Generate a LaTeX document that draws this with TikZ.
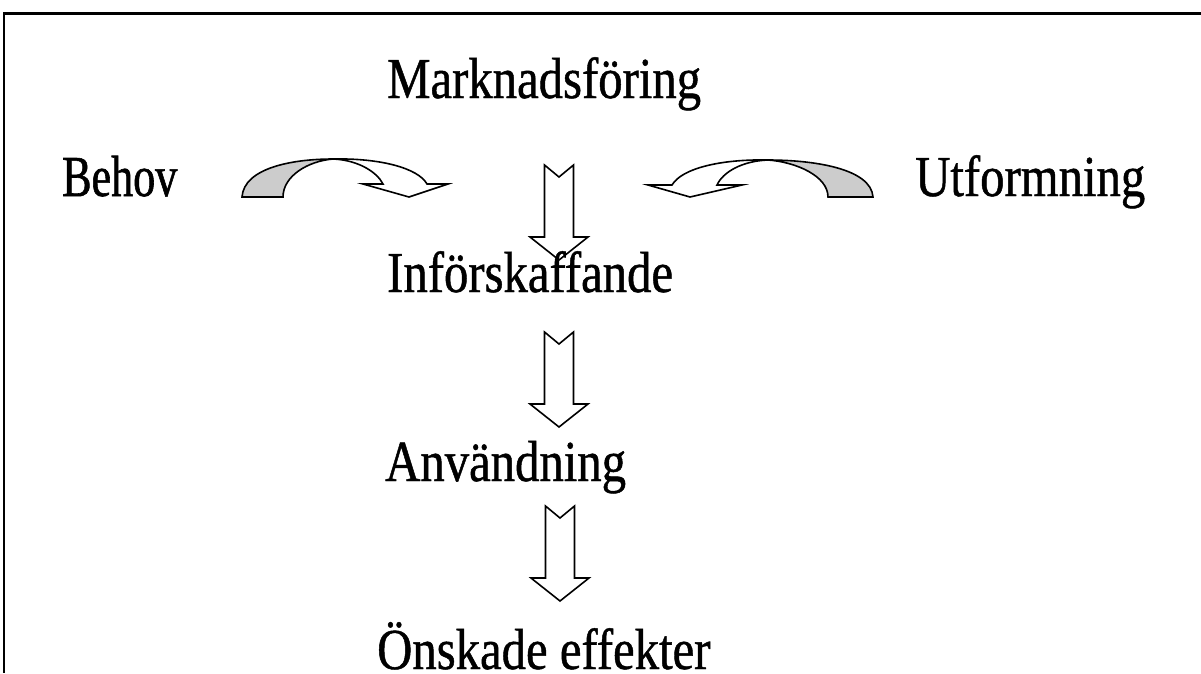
\documentclass[tikz,border=0pt]{standalone}
\usepackage{fontspec}
\newfontfamily\labfont[FakeStretch=0.84,FakeBold=0.8]{Liberation Serif}
\newfontfamily\narrowfont[FakeStretch=0.76,FakeBold=1.0]{Liberation Serif}
\newcommand{\dnarrow}[2]{%
  \draw[blk] ({#1-14.5},#2) -- (#1,{#2+12}) -- ({#1+14.5},#2) -- ({#1+14.5},{#2+72})
    -- ({#1+29},{#2+72}) -- (#1,{#2+95}) -- ({#1-29},{#2+72}) -- ({#1-14.5},{#2+72}) -- cycle;}
\begin{document}
\begin{tikzpicture}[x=1pt,y=-1pt,line join=miter]
\tikzset{
  lab/.style={anchor=base west,inner sep=0pt,font=\labfont\fontsize{58}{60}\selectfont},
  narrowlab/.style={lab,font=\narrowfont\fontsize{58}{60}\selectfont},
  blk/.style={draw=black,line width=1.6pt,fill=white},
  shd/.style={draw=black,line width=1.6pt,fill=black!20},
  frame/.style={draw=black}
}
\useasboundingbox (0,0) rectangle (1201,673);
\fill[white] (0,0) rectangle (1201,673);
% frame
\draw[frame,line width=3pt] (3,13.5) -- (1201,13.5);
\draw[frame,line width=2pt] (4,12) -- (4,673);
% vertical block arrows
\dnarrow{559}{165}
\dnarrow{559}{332}
\dnarrow{560}{506}
% left curved arrow
\draw[shd] (242,197) .. controls (244,168) and (292,159) .. (333,159)
  .. controls (308,161) and (283,176) .. (283,197) -- cycle;
\draw[blk] (333,159) .. controls (358,160) and (377,172) .. (383,184)
  -- (363,184) -- (409,197) -- (448,184) -- (427,184)
  .. controls (418,168) and (380,158) .. (333,159) -- cycle;
% right curved arrow
\draw[shd] (873,197) .. controls (871,168) and (812,160) .. (768,160)
  .. controls (796,162) and (828,176) .. (828,197) -- cycle;
\draw[blk] (768,160) .. controls (742,161) and (723,172) .. (717,185)
  -- (742,185) -- (690,197) -- (648,185) -- (672,185)
  .. controls (682,168) and (722,159) .. (768,160) -- cycle;
% labels
\node[lab] (mark) at (387,98) {Marknadsföring};
\node[narrowlab] (behov) at (62,196) {Behov};
\node[lab] (utf) at (915,196) {Utformning};
\node[lab] (inf) at (387,292) {Införskaffande};
\node[lab] (anv) at (385,481) {Användning};
\node[lab] (onsk) at (377,669) {Önskade effekter};
\end{tikzpicture}
\end{document}
